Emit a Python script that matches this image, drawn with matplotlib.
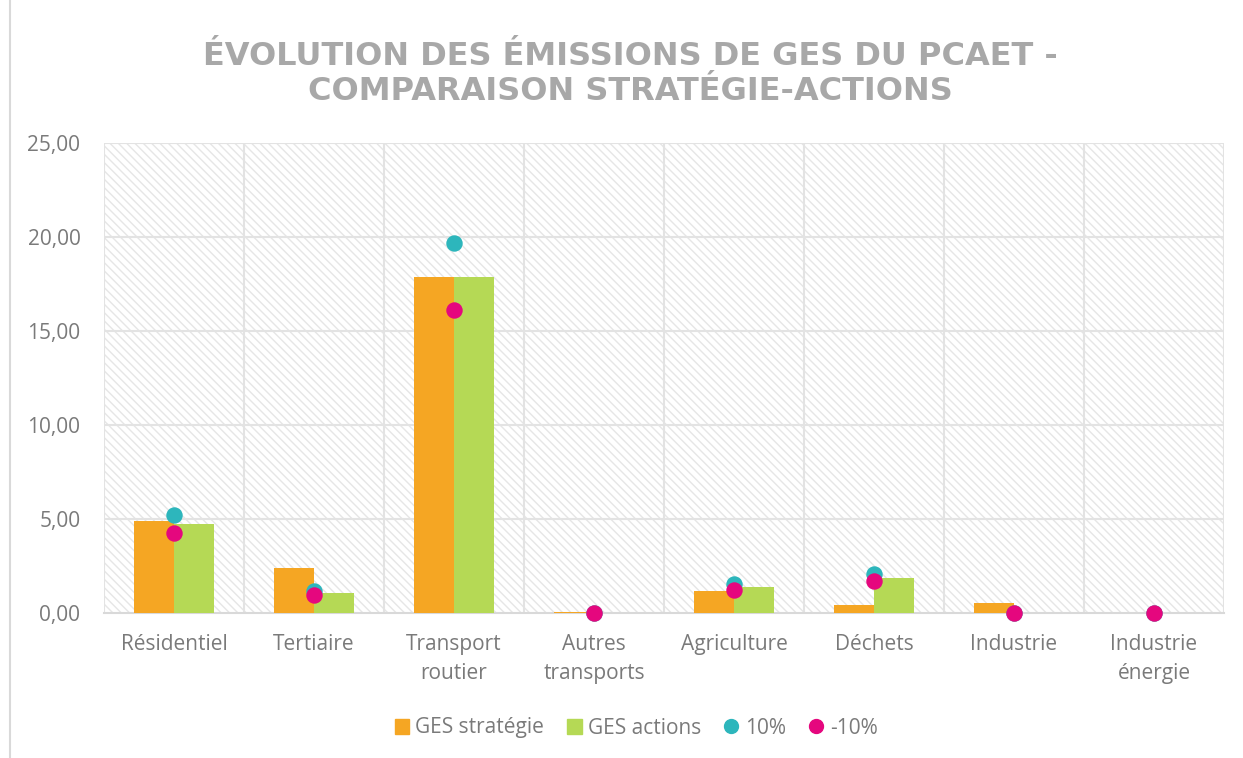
import matplotlib
matplotlib.use("Agg")
import matplotlib.pyplot as plt
from matplotlib.patches import Rectangle
from matplotlib.lines import Line2D
import numpy as np

categories = ["Résidentiel", "Tertiaire", "Transport\nroutier", "Autres\ntransports",
              "Agriculture", "Déchets", "Industrie", "Industrie\nénergie"]
ges_strategie = [4.88, 2.41, 17.85, 0.05, 1.17, 0.43, 0.53, 0.0]
ges_actions = [4.73, 1.06, 17.88, 0.0, 1.38, 1.86, 0.0, 0.0]
plus10 = [5.22, 1.18, 19.68, 0.0, 1.52, 2.05, 0.0, 0.0]
minus10 = [4.27, 0.96, 16.10, 0.0, 1.24, 1.68, 0.0, 0.0]
yticks = [0, 5, 10, 15, 20, 25]
ytick_labels = ["0,00", "5,00", "10,00", "15,00", "20,00", "25,00"]
title = "ÉVOLUTION DES ÉMISSIONS DE GES DU PCAET -\nCOMPARAISON STRATÉGIE-ACTIONS"

C_ORANGE = "#F5A623"
C_GREEN = "#B5D955"
C_CYAN = "#2DB6BC"
C_MAG = "#E5077E"
C_TXT = "#7A7A7A"
C_GRID = "#E3E3E3"

plt.rcParams["font.family"] = ["Open Sans", "DejaVu Sans"]
plt.rcParams["hatch.linewidth"] = 1.0

fig = plt.figure(figsize=(12.43, 7.58), dpi=100)
fig.patch.set_facecolor("white")
# outer chart border (only left visible in crop)
fig.add_artist(Line2D([10/1243, 10/1243], [0, 1], transform=fig.transFigure,
                      color="#D9D9D9", lw=1.5))

ax = fig.add_axes([104/1243, 1 - 613/758, 1120/1243, 470/758])
ax.set_xlim(-0.5, len(categories) - 0.5)
ax.set_ylim(0, 25)

# hatched background
bg = Rectangle((0, 0), 1, 1, transform=ax.transAxes, facecolor="white",
               edgecolor="#E6E6E6", hatch="\\\\\\\\", lw=0, zorder=0)
ax.add_patch(bg)

x = np.arange(len(categories))
w = 0.286
ax.bar(x - w/2, ges_strategie, w, color=C_ORANGE, zorder=3, label="GES stratégie")
ax.bar(x + w/2, ges_actions, w, color=C_GREEN, zorder=3, label="GES actions")
ax.scatter(x, plus10, s=140, color=C_CYAN, zorder=4, clip_on=False, label="10%", linewidths=0)
ax.scatter(x, minus10, s=140, color=C_MAG, zorder=5, clip_on=False, label="-10%", linewidths=0)

# grid
for yv in yticks[1:]:
    ax.axhline(yv, color=C_GRID, lw=1.5, zorder=1)
for xv in np.arange(-0.5, len(categories), 1.0):
    ax.axvline(xv, color=C_GRID, lw=1.5, zorder=1)

for s in ["top", "right", "left"]:
    ax.spines[s].set_visible(False)
ax.spines["bottom"].set_color("#D9D9D9")
ax.spines["bottom"].set_linewidth(1.5)
ax.spines["bottom"].set_zorder(2)

ax.set_yticks(yticks)
ax.set_yticklabels(ytick_labels)
ax.set_xticks(x)
ax.set_xticklabels(categories, linespacing=1.5)
ax.tick_params(axis="both", length=0, labelsize=15, colors=C_TXT)
ax.tick_params(axis="x", pad=15)
ax.tick_params(axis="y", pad=17)

fig.text(630/1243, 1 - 74/758, title, ha="center", va="center", fontsize=23,
         fontweight="bold", color="#A8A8A8", linespacing=1.2,
         family=["DejaVu Sans"])

handles = [
    Rectangle((0, 0), 1, 1, color=C_ORANGE),
    Rectangle((0, 0), 1, 1, color=C_GREEN),
    Line2D([], [], marker="o", ls="", color=C_CYAN, markersize=10),
    Line2D([], [], marker="o", ls="", color=C_MAG, markersize=10),
]
leg = fig.legend(handles, ["GES stratégie", "GES actions", "10%", "-10%"],
                 loc="center", bbox_to_anchor=(636/1243, 1 - 728/758), ncol=4,
                 frameon=False, fontsize=15, handlelength=0.7, handleheight=0.7,
                 handletextpad=0.3, columnspacing=1.1)
for t in leg.get_texts():
    t.set_color(C_TXT)

fig.savefig("out.png", dpi=100, facecolor="white")
